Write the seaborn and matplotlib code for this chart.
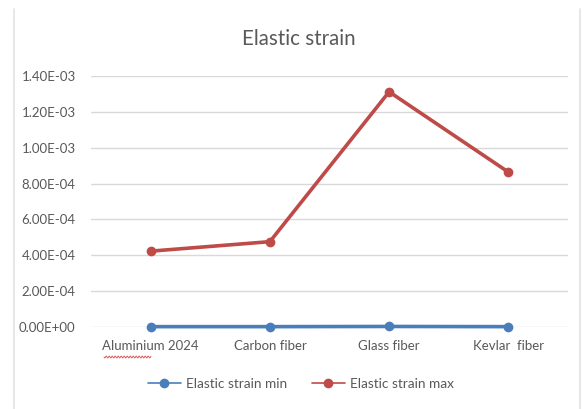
import numpy as np
import pandas as pd
import matplotlib
matplotlib.use("Agg")
import matplotlib.pyplot as plt
import seaborn as sns
from matplotlib.lines import Line2D

# Data
materials = ["Aluminium 2024", "Carbon fiber", "Glass fiber", "Kevlar  fiber"]
strain_min = [2.0e-6, 2.0e-6, 3.0e-6, 2.0e-6]
strain_max = [4.23e-4, 4.76e-4, 1.312e-3, 8.64e-4]
series_names = ["Elastic strain min", "Elastic strain max"]
y_ticks = [0.0, 2.0e-4, 4.0e-4, 6.0e-4, 8.0e-4, 1.0e-3, 1.2e-3, 1.4e-3]
y_tick_labels = ["0.00E+00", "2.00E-04", "4.00E-04", "6.00E-04",
                 "8.00E-04", "1.00E-03", "1.20E-03", "1.40E-03"]

df = pd.DataFrame({
    "Material": materials * 2,
    "Strain": strain_min + strain_max,
    "Series": [series_names[0]] * len(materials) + [series_names[1]] * len(materials),
})

sns.set_theme(style="white")
plt.rcParams["font.family"] = ["Lato", "DejaVu Sans"]

TEXT = "#595959"
GRID = "#D9D9D9"
palette = {series_names[0]: "#4A7EBB", series_names[1]: "#BE4B48"}

fig = plt.figure(figsize=(5.88, 4.09), dpi=100)
W, H = 588, 409
ax = fig.add_axes([91 / W, 1 - 327 / H, (568 - 91) / W, (327 - 76) / H])

sns.lineplot(data=df, x="Material", y="Strain", hue="Series", palette=palette,
             marker="o", markersize=7, markeredgewidth=0, linewidth=2.6,
             sort=False, ax=ax, legend=False, clip_on=False)

ax.set_xlim(-0.5, len(materials) - 0.5)
ax.set_ylim(0, 1.4e-3)
ax.set_yticks(y_ticks)
ax.set_yticklabels(y_tick_labels)
ax.yaxis.grid(True, color=GRID, linewidth=1.0)
ax.set_axisbelow(True)
for s in ax.spines.values():
    s.set_visible(False)
ax.tick_params(axis="y", length=0, pad=11, labelsize=9.5, labelcolor=TEXT)
ax.tick_params(axis="x", length=0, pad=9, labelsize=9.5, labelcolor=TEXT)
ax.set_xlabel("")
ax.set_ylabel("")

# Chart title
fig.text(299 / W, 1 - 39 / H, "Elastic strain", ha="center", va="center",
         fontsize=14.8, color=TEXT)

# Legend below the plot
handles = [Line2D([], [], color=palette[n], marker="o", markersize=7,
                  markeredgewidth=0, linewidth=1.2) for n in series_names]
fig.legend(handles, series_names, loc="center", bbox_to_anchor=(301 / W, 1 - 384 / H),
           ncol=2, frameon=False, fontsize=9.8, labelcolor=TEXT,
           handlelength=2.4, columnspacing=1.8, handletextpad=0.4)

# Chart area frame (left and right edges)
fig.add_artist(Line2D([14 / W, 14 / W], [0, 1 - 9 / H], transform=fig.transFigure,
                      color="#E3E3E3", linewidth=1.2))
fig.add_artist(Line2D([580 / W, 580 / W], [0, 1 - 9 / H], transform=fig.transFigure,
                      color="#E3E3E3", linewidth=1.2))

# Spell-check squiggle under "Aluminium"
xs = np.linspace(104, 151, 120)
ys = 357 + 1.0 * np.sin((xs - 104) * 2 * np.pi / 3.0)
fig.add_artist(Line2D(xs / W, 1 - ys / H, transform=fig.transFigure,
                      color="#D85050", linewidth=0.6))

fig.savefig("out.png", dpi=100, facecolor="white")
